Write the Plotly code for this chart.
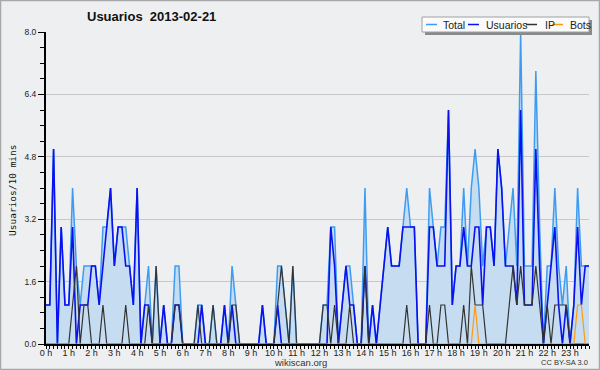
import plotly.graph_objects as go

# 10-minute slots over the day (0 .. 143)
slots = list(range(144))

hour_positions = [0, 6, 12, 18, 24, 30, 36, 42, 48, 54, 60, 66, 72, 78, 84, 90,
                  96, 102, 108, 114, 120, 126, 132, 138]
hour_labels = ["0 h", "1 h", "2 h", "3 h", "4 h", "5 h", "6 h", "7 h", "8 h", "9 h",
               "10 h", "11 h", "12 h", "13 h", "14 h", "15 h", "16 h", "17 h", "18 h",
               "19 h", "20 h", "21 h", "22 h", "23 h"]

total = [1, 1, 5, 0, 3, 1, 1, 4, 2, 1,
         2, 2, 2, 2, 1, 3, 3, 4, 2, 3,
         3, 3, 2, 1, 4, 0, 1, 2, 0, 2,
         0, 1, 0, 0, 2, 2, 0, 0, 0, 0,
         1, 1, 0, 0, 1, 0, 0, 1, 0, 2,
         1, 0, 0, 0, 0, 0, 0, 1, 0, 0,
         0, 2, 2, 1, 0, 2, 0, 0, 0, 0,
         0, 0, 0, 1, 1, 3, 3, 0, 1, 2,
         2, 1, 0, 0, 4, 0, 1, 0, 1, 2,
         3, 2, 2, 2, 3, 4, 3, 3, 0, 0,
         0, 4, 3, 2, 3, 3, 6, 1, 2, 2,
         4, 2, 4, 5, 4, 2, 3, 3, 2, 5,
         4, 2, 3, 4, 2, 8, 2, 2, 2, 7,
         3, 0, 2, 2, 4, 2, 1, 2, 0, 1,
         4, 2, 2, 2]

usuarios = [1, 1, 5, 0, 3, 1, 1, 3, 0, 1,
            1, 1, 2, 2, 1, 2, 3, 4, 2, 3,
            3, 2, 2, 1, 4, 0, 1, 1, 0, 0,
            0, 1, 0, 0, 1, 1, 0, 0, 0, 0,
            0, 1, 0, 0, 0, 0, 0, 1, 0, 1,
            0, 0, 0, 0, 0, 0, 0, 1, 0, 0,
            0, 1, 0, 0, 0, 0, 0, 0, 0, 0,
            0, 0, 0, 0, 0, 3, 2, 0, 1, 2,
            1, 1, 0, 0, 2, 0, 1, 0, 1, 2,
            3, 2, 2, 2, 3, 3, 3, 3, 0, 0,
            0, 3, 3, 2, 2, 2, 6, 1, 2, 2,
            3, 2, 2, 3, 3, 1, 3, 3, 2, 5,
            4, 2, 2, 2, 1, 6, 1, 1, 1, 5,
            2, 0, 1, 2, 3, 1, 0, 1, 0, 1,
            3, 1, 2, 2]

ip = [0, 0, 0, 0, 0, 0, 0, 1, 2, 0,
      1, 1, 0, 0, 0, 1, 0, 0, 0, 0,
      0, 1, 0, 0, 0, 0, 0, 1, 0, 2,
      0, 0, 0, 0, 1, 1, 0, 0, 0, 0,
      1, 0, 0, 0, 1, 0, 0, 0, 0, 1,
      1, 0, 0, 0, 0, 0, 0, 0, 0, 0,
      0, 1, 2, 1, 0, 2, 0, 0, 0, 0,
      0, 0, 0, 1, 1, 0, 1, 0, 0, 0,
      1, 0, 0, 0, 2, 0, 0, 0, 0, 0,
      0, 0, 0, 0, 0, 1, 0, 0, 0, 0,
      0, 1, 0, 0, 1, 1, 0, 0, 0, 0,
      1, 0, 2, 1, 1, 1, 0, 0, 0, 0,
      0, 0, 1, 2, 1, 2, 1, 1, 1, 2,
      1, 0, 1, 0, 1, 1, 1, 1, 0, 0,
      0, 0, 0, 0]

bots = [0, 0, 0, 0, 0, 0, 0, 0, 0, 0,
        0, 0, 0, 0, 0, 0, 0, 0, 0, 0,
        0, 0, 0, 0, 0, 0, 0, 0, 0, 0,
        0, 0, 0, 0, 0, 0, 0, 0, 0, 0,
        0, 0, 0, 0, 0, 0, 0, 0, 0, 0,
        0, 0, 0, 0, 0, 0, 0, 0, 0, 0,
        0, 0, 0, 0, 0, 0, 0, 0, 0, 0,
        0, 0, 0, 0, 0, 0, 0, 0, 0, 0,
        0, 0, 0, 0, 0, 0, 0, 0, 0, 0,
        0, 0, 0, 0, 0, 0, 0, 0, 0, 0,
        0, 0, 0, 0, 0, 0, 0, 0, 0, 0,
        0, 0, 0, 1, 0, 0, 0, 0, 0, 0,
        0, 0, 0, 0, 0, 0, 0, 0, 0, 0,
        0, 0, 0, 0, 0, 0, 0, 0, 0, 0,
        1, 1, 0, 0]

series_names = ["Total", "Usuarios", "IP", "Bots"]
series_colors = ["#3d9cf2", "#0a10f0", "#333333", "#ff9a10"]

W, H = 600, 370
L, R, T, B = 46, 11, 32, 26
PW, PH = W - L - R, H - T - B


def px(xp):
    return (xp - L) / PW


def py(yp):
    return (H - B - yp) / PH


BG = "#eeeff1"
FONT = "Liberation Sans"

fig = go.Figure()
fig.add_trace(go.Scatter(x=slots, y=total, mode="lines", name=series_names[0],
                         line=dict(color=series_colors[0], width=1.5),
                         fill="tozeroy", fillcolor="#c6dcf0"))
fig.add_trace(go.Scatter(x=slots, y=usuarios, mode="lines", name=series_names[1],
                         line=dict(color=series_colors[1], width=1.6)))
fig.add_trace(go.Scatter(x=slots, y=ip, mode="lines", name=series_names[2],
                         line=dict(color=series_colors[2], width=1.2)))
fig.add_trace(go.Scatter(x=slots, y=bots, mode="lines", name=series_names[3],
                         line=dict(color=series_colors[3], width=1.2)))

shapes = [
    # figure border
    dict(type="rect", xref="paper", yref="paper", x0=px(0.5), x1=px(W - 0.5),
         y0=py(H - 0.5), y1=py(0.5), line=dict(color="#a8a8a8", width=1.5),
         fillcolor="rgba(0,0,0,0)", layer="above"),
    # legend shadow
    dict(type="rect", xref="paper", yref="paper", x0=px(425), x1=px(592),
         y0=py(35), y1=py(20), line=dict(width=0), fillcolor="#8a8a8a", layer="above"),
    # legend box
    dict(type="rect", xref="paper", yref="paper", x0=px(422), x1=px(589),
         y0=py(32), y1=py(17), line=dict(color="#a0a0a0", width=1),
         fillcolor="#fbfbfb", layer="above"),
]
annotations = [
    dict(text="Usuarios&nbsp;&nbsp;2013-02-21", xref="paper", yref="paper",
         x=px(85), y=py(17), xanchor="left", yanchor="middle", showarrow=False,
         font=dict(family=FONT, size=13, color="#111111", weight="bold")),
    dict(text="Usuarios/10 mins", xref="paper", yref="paper", x=px(12), y=py(190),
         xanchor="center", yanchor="middle", textangle=-90, showarrow=False,
         font=dict(family="DejaVu Sans Mono", size=9.5, color="#111111")),
    dict(text="wikiscan.org", xref="paper", yref="paper", x=px(300), y=py(362),
         xanchor="center", yanchor="middle", showarrow=False,
         font=dict(family=FONT, size=9.5, color="#333333")),
    dict(text="CC BY-SA 3.0", xref="paper", yref="paper", x=px(590), y=py(362),
         xanchor="right", yanchor="middle", showarrow=False,
         font=dict(family=FONT, size=7.5, color="#333333")),
]
legend_items = [(426, 437, 441), (468, 479, 484), (526, 537, 543), (552, 563, 568)]
for (x0, x1, tx), name, col in zip(legend_items, series_names, series_colors):
    shapes.append(dict(type="line", xref="paper", yref="paper", x0=px(x0), x1=px(x1),
                       y0=py(24.5), y1=py(24.5), line=dict(color=col, width=1.5),
                       layer="above"))
    annotations.append(dict(text=name, xref="paper", yref="paper", x=px(tx), y=py(24.5),
                            xanchor="left", yanchor="middle", showarrow=False,
                            font=dict(family=FONT, size=10.5, color="#222222")))

fig.update_layout(
    width=W, height=H,
    margin=dict(l=L, r=R, t=T, b=B, pad=0, autoexpand=False),
    paper_bgcolor=BG, plot_bgcolor=BG,
    showlegend=False,
    font=dict(family=FONT, size=9, color="#222222"),
    shapes=shapes, annotations=annotations,
)
fig.update_xaxes(range=[0, 143], tickmode="array", tickvals=hour_positions,
                 ticktext=hour_labels, ticks="outside", ticklen=3, tickwidth=1,
                 tickcolor="black", showline=True, linecolor="black", linewidth=2,
                 showgrid=False, zeroline=False, tickfont=dict(size=9),
                 automargin=False, ticklabelstandoff=-4,
                 minor=dict(tickmode="linear", tick0=0, dtick=1, ticks="outside",
                            ticklen=3, tickcolor="black", showgrid=False))
fig.update_yaxes(range=[0, 8], tickmode="linear", tick0=0, dtick=1.6, tickformat=".1f",
                 ticks="outside", ticklen=6, tickwidth=1, tickcolor="black",
                 showline=True, linecolor="black", linewidth=2, showgrid=True,
                 gridcolor="#c8c8c8", gridwidth=1, zeroline=False,
                 tickfont=dict(size=8.5), automargin=False,
                 minor=dict(tickmode="linear", tick0=0, dtick=0.4, ticks="outside",
                            ticklen=4, tickcolor="black", showgrid=False))

fig.write_html("out.html",
               config={"displayModeBar": False},
               post_script="document.body.style.margin='0px';"
                           "document.body.style.overflow='hidden';")
